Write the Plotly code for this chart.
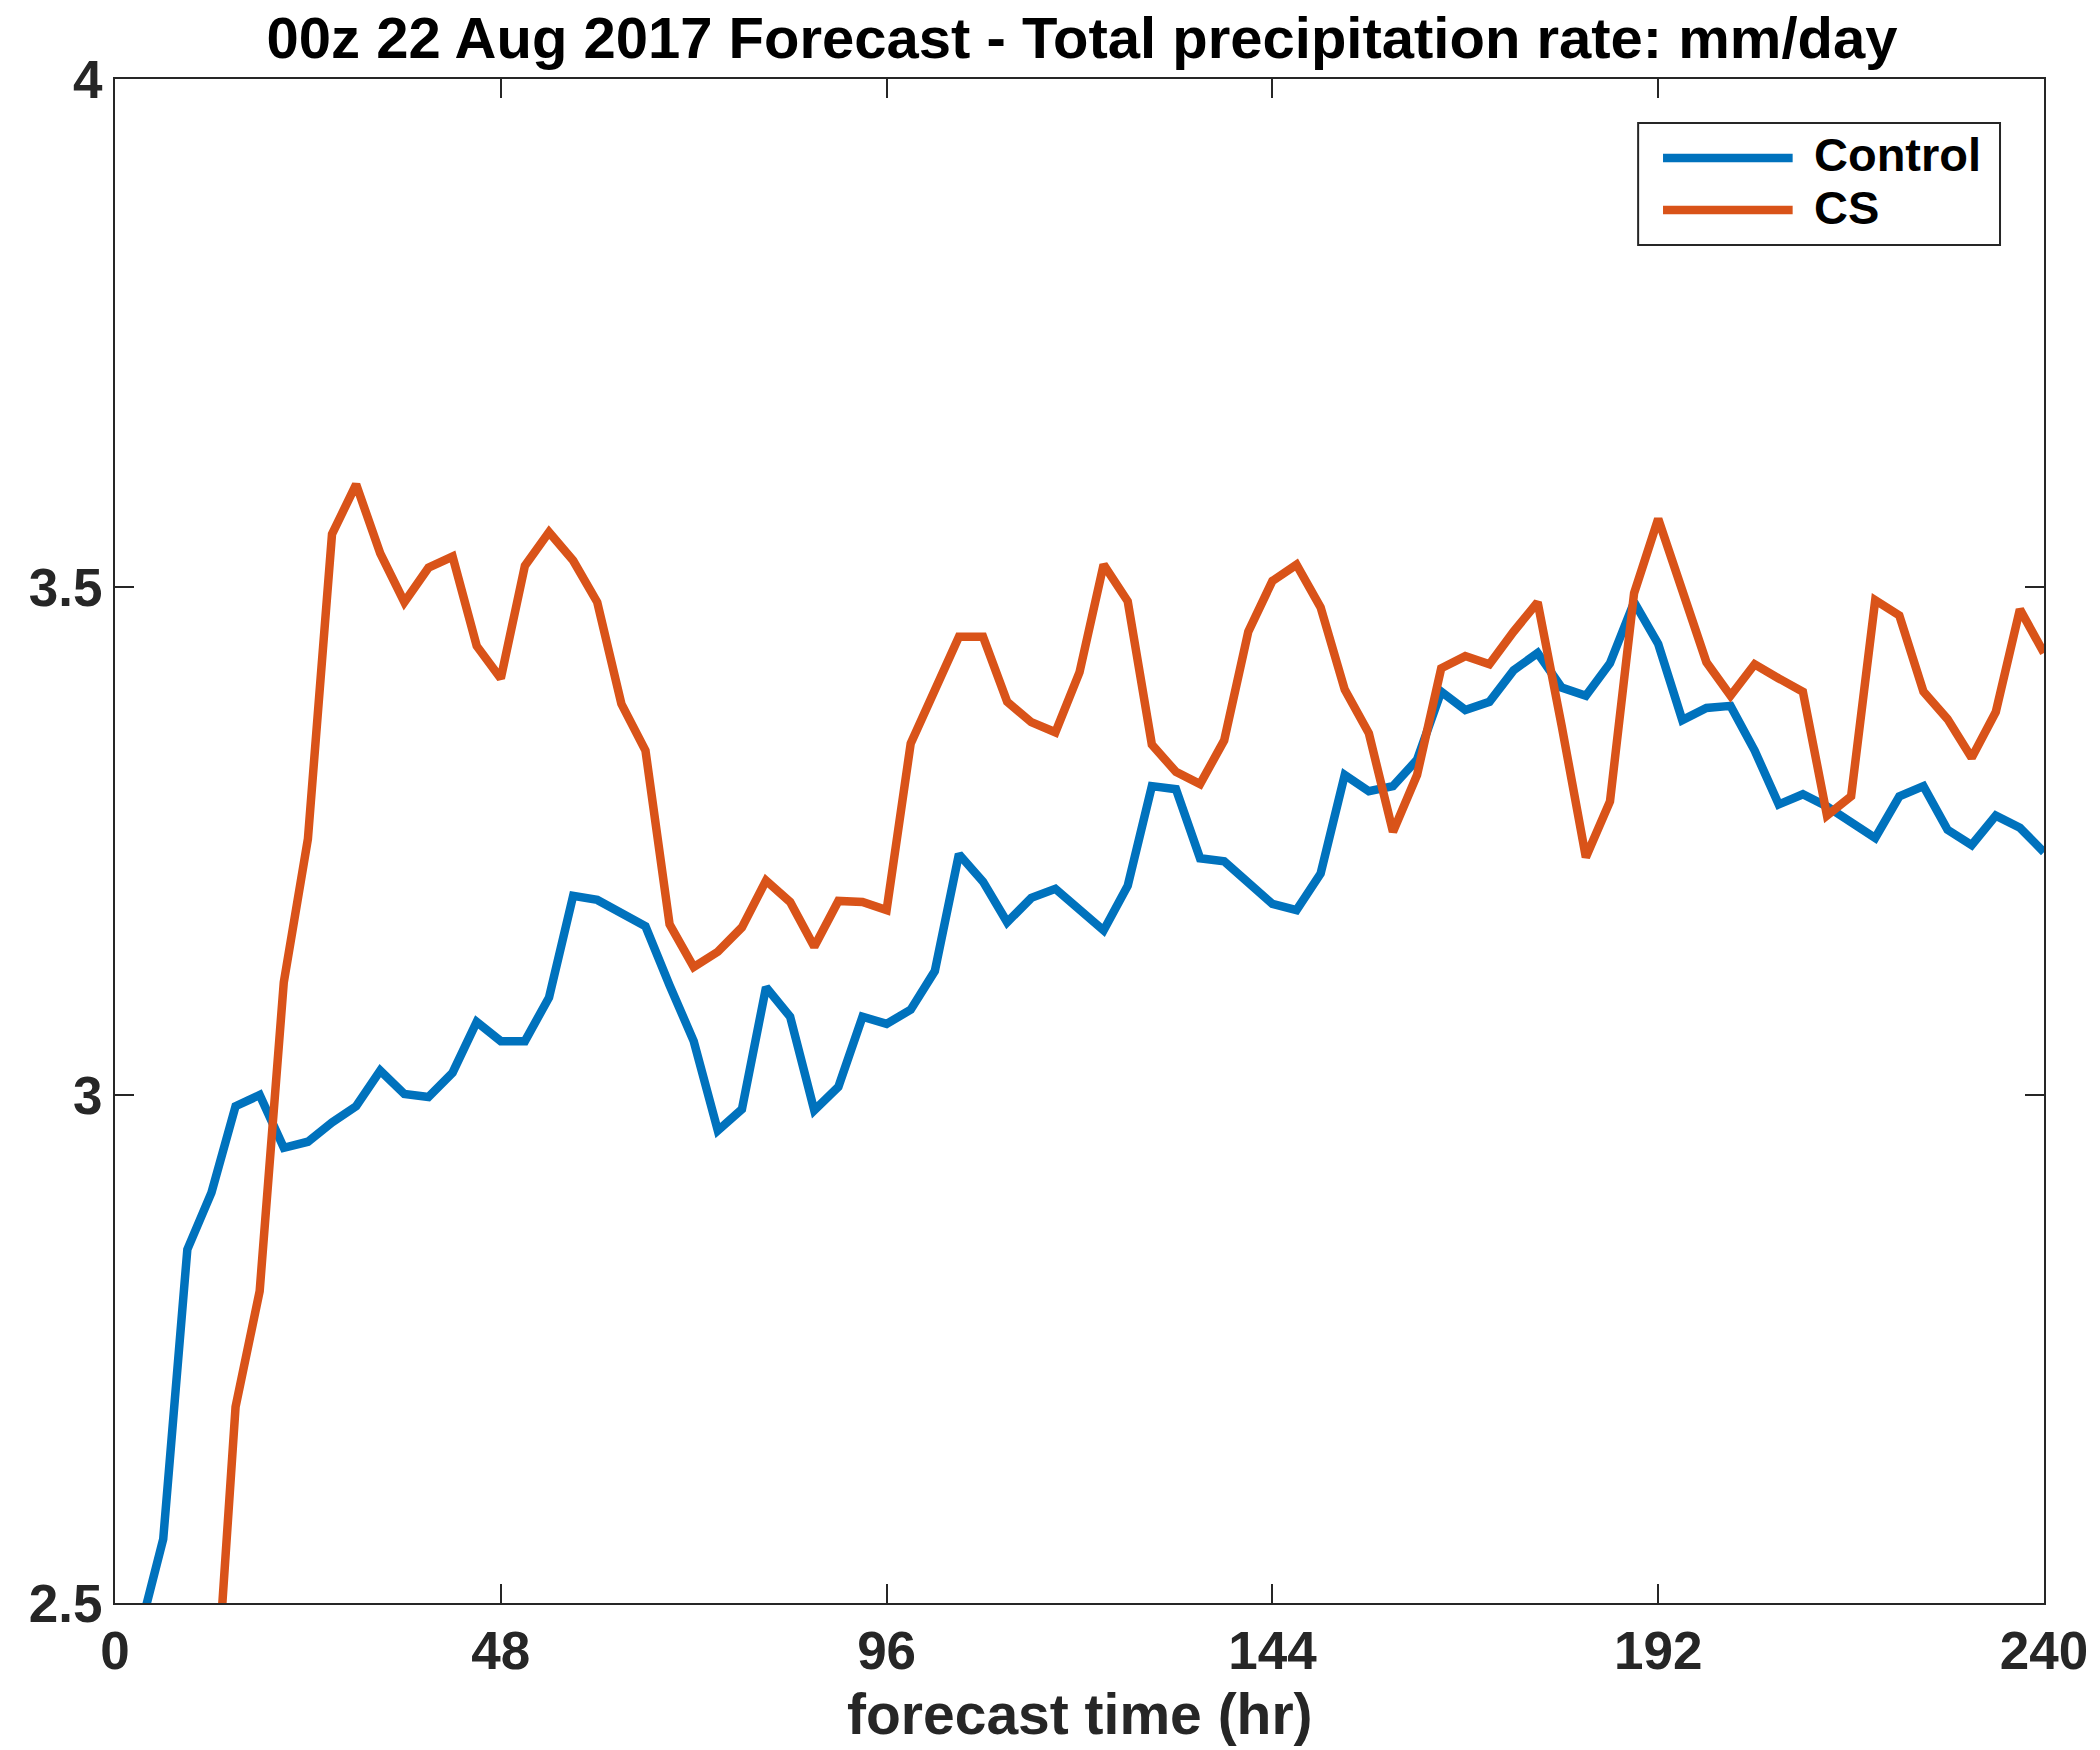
import plotly.graph_objects as go

# Forecast lead time (hours), every 3 h out to 10 days
hours = list(range(0, 241, 3))

# Domain-mean total precipitation rate (mm/day)
control = [
    2.10, 2.47, 2.563, 2.848, 2.904, 2.989, 3.000, 2.948, 2.954, 2.973,
    2.989, 3.024, 3.001, 2.998, 3.022, 3.072, 3.053, 3.053, 3.096, 3.196,
    3.192, 3.180, 3.166, 3.108, 3.053, 2.965, 2.986, 3.106, 3.077, 2.985,
    3.008, 3.077, 3.070, 3.084, 3.122, 3.237, 3.210, 3.170, 3.194, 3.203,
    3.182, 3.162, 3.206, 3.304, 3.301, 3.233, 3.230, 3.208, 3.188, 3.182,
    3.218, 3.315, 3.299, 3.304, 3.330, 3.397, 3.379, 3.387, 3.418, 3.435,
    3.401, 3.393, 3.425, 3.485, 3.444, 3.369, 3.381, 3.383, 3.339, 3.286,
    3.296, 3.284, 3.269, 3.253, 3.294, 3.304, 3.261, 3.246, 3.275, 3.263,
    3.239,
]
cs = [
    1.80, 1.95, 2.08, 2.20, 2.34, 2.693, 2.807, 3.111, 3.252, 3.552,
    3.601, 3.533, 3.485, 3.519, 3.530, 3.442, 3.410, 3.521, 3.554, 3.526,
    3.485, 3.385, 3.339, 3.168, 3.126, 3.141, 3.165, 3.211, 3.190, 3.146,
    3.191, 3.190, 3.182, 3.346, 3.397, 3.451, 3.451, 3.387, 3.367, 3.357,
    3.416, 3.522, 3.486, 3.345, 3.318, 3.306, 3.349, 3.456, 3.506, 3.522,
    3.480, 3.399, 3.356, 3.259, 3.315, 3.420, 3.432, 3.424, 3.456, 3.485,
    3.363, 3.234, 3.289, 3.494, 3.567, 3.497, 3.426, 3.393, 3.424, 3.410,
    3.397, 3.275, 3.294, 3.487, 3.472, 3.397, 3.370, 3.332, 3.377, 3.478,
    3.435,
]

series_names = ["Control", "CS"]
series_colors = ["#0072BD", "#D95319"]

x_ticks = [0, 48, 96, 144, 192, 240]
y_ticks = [2.5, 3.0, 3.5, 4.0]
y_tick_text = ["2.5", "3", "3.5", "4"]

FONT = "Liberation Sans"
AXIS_COLOR = "#262626"
LINE_W = 8.5

fig = go.Figure()
for name, ys, col in zip(series_names, [control, cs], series_colors):
    fig.add_trace(go.Scatter(
        x=hours, y=ys, mode="lines", name=name,
        line=dict(color=col, width=LINE_W),
        showlegend=False,
    ))

axis_common = dict(
    showline=True, linecolor=AXIS_COLOR, linewidth=2,
    mirror="ticks", ticks="inside", ticklen=19, tickwidth=1.5,
    tickcolor=AXIS_COLOR, showgrid=False, zeroline=False,
    tickfont=dict(family=FONT, size=53, color=AXIS_COLOR, weight="bold"),
)

fig.update_layout(
    width=2100, height=1750,
    margin=dict(l=115, r=51, t=79, b=147),
    paper_bgcolor="white", plot_bgcolor="white",
    title=dict(
        text="00z 22 Aug 2017 Forecast - Total precipitation rate: mm/day",
        font=dict(family=FONT, size=58, color="black", weight="bold"),
        x=(115 + 2049) / 2 / 2100, xanchor="center",
        y=1 - 38 / 1750, yanchor="middle",
    ),
    xaxis=dict(range=[0, 240], tickvals=x_ticks, **axis_common),
    yaxis=dict(range=[2.5, 4.0], tickvals=y_ticks, ticktext=y_tick_text,
               **axis_common),
    showlegend=False,
)

# x-axis label
fig.add_annotation(
    text="forecast time (hr)", xref="paper", yref="paper",
    x=0.5, y=-0.073, xanchor="center", yanchor="middle", showarrow=False,
    font=dict(family=FONT, size=57, color=AXIS_COLOR, weight="bold"),
)

# Boxed legend in the upper-right corner
fig.add_shape(type="rect", xref="paper", yref="paper",
              x0=0.7896, x1=0.9772, y0=0.8911, y1=0.9711,
              line=dict(color=AXIS_COLOR, width=2), fillcolor="white")
legend_rows = [0.9482, 0.9140]
for name, col, yy in zip(series_names, series_colors, legend_rows):
    fig.add_shape(type="line", xref="paper", yref="paper",
                  x0=0.8025, x1=0.8697, y0=yy, y1=yy,
                  line=dict(color=col, width=LINE_W))
    fig.add_annotation(
        text=name, xref="paper", yref="paper", x=0.8795, y=yy + 0.002,
        xanchor="left", yanchor="middle", showarrow=False,
        font=dict(family=FONT, size=47, color="black", weight="bold"),
    )

fig.write_html("out.html")
